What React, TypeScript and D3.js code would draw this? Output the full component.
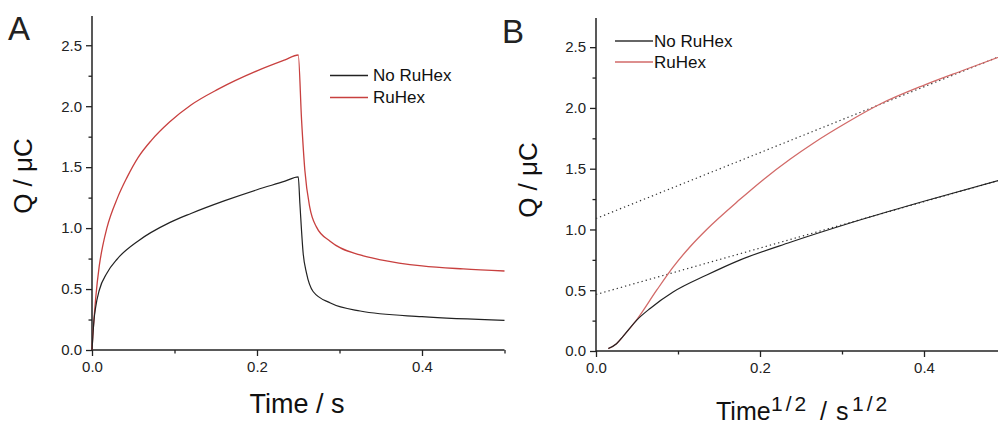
import React, { useEffect, useRef } from 'react'
import * as d3 from 'd3'

// panel A: charge vs time (s)
const timeNoRuHex = [0, 0.001, 0.0025, 0.0044, 0.0088, 0.018, 0.031, 0.056, 0.094, 0.12, 0.161, 0.2, 0.234, 0.25, 0.252, 0.256, 0.26, 0.268, 0.289, 0.325, 0.4, 0.5]
const qNoRuHex = [0, 0.11, 0.25, 0.35, 0.49, 0.63, 0.75, 0.895, 1.045, 1.12, 1.225, 1.315, 1.385, 1.42, 1.2, 0.79, 0.63, 0.48, 0.385, 0.32, 0.273, 0.243]
const timeRuHex = [0, 0.001, 0.0025, 0.0044, 0.0088, 0.0132, 0.018, 0.031, 0.042, 0.056, 0.072, 0.094, 0.12, 0.153, 0.2, 0.234, 0.25, 0.254, 0.258, 0.264, 0.272, 0.289, 0.325, 0.35, 0.4, 0.45, 0.5]
const qRuHex = [0, 0.12, 0.26, 0.42, 0.69, 0.86, 1.0, 1.25, 1.41, 1.58, 1.72, 1.87, 2.01, 2.14, 2.29, 2.38, 2.42, 1.89, 1.475, 1.17, 1.01, 0.89, 0.78, 0.74, 0.69, 0.665, 0.648]

// panel B: charge vs sqrt(time)
const sqrtNoRuHex = [0.015, 0.025, 0.033, 0.05, 0.066, 0.094, 0.135, 0.176, 0.237, 0.306, 0.401, 0.5]
const qbNoRuHex = [0.02, 0.06, 0.12, 0.256, 0.35, 0.485, 0.625, 0.75, 0.895, 1.045, 1.234, 1.42]
const sqrtRuHex = [0.015, 0.025, 0.033, 0.05, 0.074, 0.094, 0.115, 0.135, 0.176, 0.204, 0.237, 0.265, 0.306, 0.346, 0.401, 0.448, 0.5]
const qbRuHex = [0.02, 0.06, 0.12, 0.26, 0.5, 0.69, 0.86, 1.0, 1.25, 1.41, 1.58, 1.71, 1.88, 2.03, 2.19, 2.31, 2.44]
// linear fits (dotted)
const fitX = [0, 0.5]
const fitNoRuHex = [0.465, 1.42]
const fitRuHex = [1.09, 2.445]

const yMajor = [0, 0.5, 1.0, 1.5, 2.0, 2.5]
const yMinor = [0.25, 0.75, 1.25, 1.75, 2.25]
const xMajor = [0, 0.2, 0.4]
const xMinor = [0.1, 0.3, 0.5]

const seriesNames = ['No RuHex', 'RuHex']

const FONT = 'Liberation Sans, Arial, sans-serif'
const AX = '#222'

function zip(xs: number[], ys: number[]): [number, number][] {
  return xs.map((x, i) => [x, ys[i]])
}

function App() {
  const ref = useRef<SVGSVGElement>(null)

  useEffect(() => {
    const svg = d3.select(ref.current)
    svg.selectAll('*').remove()

    const drawPanel = (opts: any) => {
      const { left, right, bottom, top, label, labelX, labelY, yTitleX, yTitleY, red } = opts
      const x = d3.scaleLinear().domain([0, 0.5]).range([left, right])
      const y = d3.scaleLinear().domain([0, 2.74]).range([bottom, top])
      const g = svg.append('g')

      // axis lines
      g.append('line').attr('x1', left).attr('x2', left).attr('y1', bottom).attr('y2', top)
        .attr('stroke', AX).attr('stroke-width', 1.5)
      g.append('line').attr('x1', left).attr('x2', right).attr('y1', bottom).attr('y2', bottom)
        .attr('stroke', AX).attr('stroke-width', 1.5)

      const yAx = g.append('g').attr('transform', `translate(${left},0)`)
        .call(d3.axisLeft(y).tickValues(yMajor).tickSize(6).tickPadding(4).tickFormat(d3.format('.1f')))
      const yAxMinor = g.append('g').attr('transform', `translate(${left},0)`)
        .call(d3.axisLeft(y).tickValues(yMinor).tickSize(3.5).tickFormat(() => ''))
      const xAx = g.append('g').attr('transform', `translate(0,${bottom})`)
        .call(d3.axisBottom(x).tickValues(xMajor).tickSize(6).tickPadding(5).tickFormat(d3.format('.1f')))
      const xAxMinor = g.append('g').attr('transform', `translate(0,${bottom})`)
        .call(d3.axisBottom(x).tickValues(xMinor).tickSize(3.5).tickFormat(() => ''))
      for (const a of [yAx, yAxMinor, xAx, xAxMinor]) {
        a.select('.domain').remove()
        a.selectAll('line').attr('stroke', AX).attr('stroke-width', 1.3)
        a.selectAll('text').attr('font-family', FONT).attr('font-size', 15).attr('fill', AX)
      }

      // panel letter
      g.append('text').attr('x', labelX).attr('y', labelY).text(label)
        .attr('font-family', FONT).attr('font-size', 33).attr('fill', '#222')

      // y title
      g.append('text').attr('transform', `translate(${yTitleX},${yTitleY}) rotate(-90)`)
        .attr('text-anchor', 'middle').attr('font-family', FONT).attr('font-size', 26).attr('fill', '#111')
        .text('Q / \u03bcC')

      return { g, x, y, red }
    }

    // ---- Panel A
    const A = drawPanel({ left: 92, right: 504.5, bottom: 350, top: 16, label: 'A', labelX: 8, labelY: 40, yTitleX: 32, yTitleY: 176, red: '#c8403f' })
    const lineA = d3.line<[number, number]>().x(d => A.x(d[0])).y(d => A.y(d[1])).curve(d3.curveMonotoneX)
    A.g.append('path').attr('d', lineA(zip(timeRuHex, qRuHex))).attr('fill', 'none').attr('stroke', A.red).attr('stroke-width', 1.3)
    A.g.append('path').attr('d', lineA(zip(timeNoRuHex, qNoRuHex))).attr('fill', 'none').attr('stroke', '#222').attr('stroke-width', 1.2)
    A.g.append('text').attr('x', 297).attr('y', 413).attr('text-anchor', 'middle')
      .attr('font-family', FONT).attr('font-size', 27).attr('fill', '#111').text('Time / s')

    const legA = A.g.append('g')
    seriesNames.forEach((name, i) => {
      const yy = 75.5 + i * 22
      legA.append('line').attr('x1', 330).attr('x2', 368).attr('y1', yy).attr('y2', yy)
        .attr('stroke', i === 0 ? '#222' : A.red).attr('stroke-width', 1.3)
      legA.append('text').attr('x', 373).attr('y', yy).attr('dy', '0.35em').text(name)
        .attr('font-family', FONT).attr('font-size', 17).attr('fill', '#111')
    })

    // ---- Panel B
    const B = drawPanel({ left: 596, right: 1006, bottom: 351, top: 18, label: 'B', labelX: 502, labelY: 43, yTitleX: 537, yTitleY: 180, red: '#d26a68' })
    const lineB = d3.line<[number, number]>().x(d => B.x(d[0])).y(d => B.y(d[1])).curve(d3.curveMonotoneX)
    const fitLine = d3.line<[number, number]>().x(d => B.x(d[0])).y(d => B.y(d[1]))
    B.g.append('path').attr('d', fitLine(zip(fitX, fitRuHex))).attr('fill', 'none').attr('stroke', '#333')
      .attr('stroke-width', 1.2).attr('stroke-dasharray', '1.3,3')
    B.g.append('path').attr('d', fitLine(zip(fitX, fitNoRuHex))).attr('fill', 'none').attr('stroke', '#333')
      .attr('stroke-width', 1.2).attr('stroke-dasharray', '1.3,3')
    B.g.append('path').attr('d', lineB(zip(sqrtRuHex, qbRuHex))).attr('fill', 'none').attr('stroke', B.red).attr('stroke-width', 1.3)
    B.g.append('path').attr('d', lineB(zip(sqrtNoRuHex, qbNoRuHex))).attr('fill', 'none').attr('stroke', '#222').attr('stroke-width', 1.2)

    const tB = B.g.append('text').attr('y', 420)
      .attr('font-family', FONT).attr('font-size', 25).attr('fill', '#111')
    tB.append('tspan').attr('x', 716).text('Time')
    tB.append('tspan').attr('x', 771).attr('y', 411).attr('font-size', 21).attr('letter-spacing', 3).text('1/2')
    tB.append('tspan').attr('x', 820).attr('y', 420).text('/')
    tB.append('tspan').attr('x', 836).attr('y', 420).text('s')
    tB.append('tspan').attr('x', 852).attr('y', 411).attr('font-size', 21).attr('letter-spacing', 3).text('1/2')

    const legB = B.g.append('g')
    seriesNames.forEach((name, i) => {
      const yy = 41 + i * 21
      legB.append('line').attr('x1', 615).attr('x2', 653).attr('y1', yy).attr('y2', yy)
        .attr('stroke', i === 0 ? '#333' : B.red).attr('stroke-width', 1.3)
      legB.append('text').attr('x', 654).attr('y', yy).attr('dy', '0.35em').text(name)
        .attr('font-family', FONT).attr('font-size', 17).attr('fill', '#111')
    })
  }, [])

  return (
    <svg ref={ref} width={998} height={425}
      style={{ position: 'absolute', left: 0, top: 0, background: '#fff', display: 'block' }} />
  )
}

export default App
